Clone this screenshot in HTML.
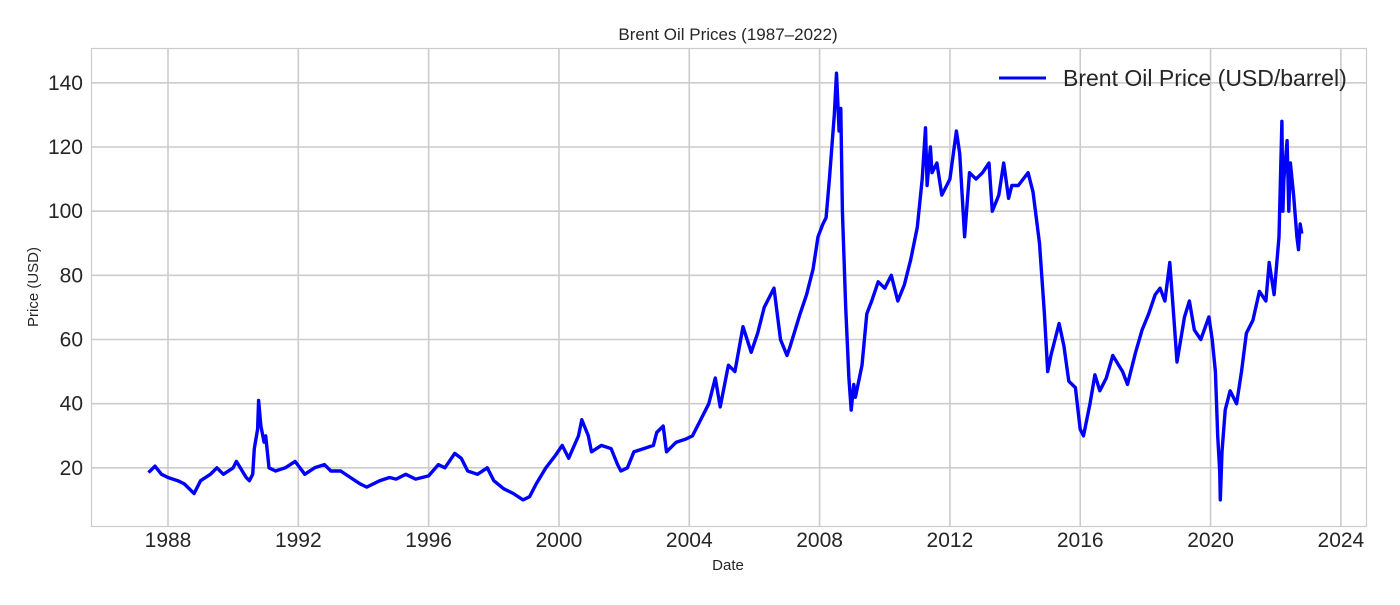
<!DOCTYPE html>
<html><head><meta charset="utf-8"><style>
body{margin:0;background:#fff;}
svg text{font-family:"Liberation Sans",sans-serif;fill:#262626;}
</style></head><body>
<svg id="chart" width="1400" height="600">
<rect x="0" y="0" width="1400" height="600" fill="#fff"/>
<g id="grid"></g>
<rect x="91.5" y="48.5" width="1275" height="478" fill="none" stroke="#cccccc" stroke-width="1.2"/>
<g id="xt"></g><g id="yt"></g>
<path id="line" fill="none" stroke="#0000ff" stroke-width="3.4" stroke-linejoin="round"/>
<text x="728" y="40" font-size="17" text-anchor="middle">Brent Oil Prices (1987–2022)</text>
<text x="728" y="570" font-size="15" text-anchor="middle">Date</text>
<text x="38" y="287" font-size="15" text-anchor="middle" transform="rotate(-90 38 287)">Price (USD)</text>
<g>
<line x1="999" y1="78" x2="1046" y2="78" stroke="#0000ff" stroke-width="3"/>
<text x="1063" y="86" font-size="23">Brent Oil Price (USD/barrel)</text>
</g>
</svg>
<script>
const dates=[1987.4,1987.6,1987.8,1988.0,1988.3,1988.5,1988.8,1989.0,1989.3,1989.5,1989.7,1990.0,1990.1,1990.4,1990.5,1990.6,1990.65,1990.75,1990.78,1990.85,1990.95,1991.0,1991.1,1991.3,1991.6,1991.9,1992.2,1992.5,1992.8,1993.0,1993.3,1993.6,1993.9,1994.1,1994.5,1994.8,1995.0,1995.3,1995.6,1996.0,1996.3,1996.5,1996.8,1997.0,1997.2,1997.5,1997.8,1998.0,1998.3,1998.6,1998.9,1999.1,1999.3,1999.6,1999.9,2000.1,2000.3,2000.6,2000.7,2000.9,2001.0,2001.3,2001.6,2001.8,2001.9,2002.1,2002.3,2002.6,2002.9,2003.0,2003.2,2003.3,2003.6,2003.9,2004.1,2004.3,2004.6,2004.8,2004.95,2005.2,2005.4,2005.65,2005.9,2006.1,2006.3,2006.6,2006.8,2007.0,2007.1,2007.4,2007.6,2007.8,2007.95,2008.1,2008.2,2008.3,2008.45,2008.52,2008.6,2008.65,2008.7,2008.8,2008.9,2008.97,2009.05,2009.1,2009.3,2009.45,2009.6,2009.8,2010.0,2010.2,2010.4,2010.6,2010.8,2011.0,2011.15,2011.25,2011.3,2011.4,2011.45,2011.6,2011.75,2011.9,2012.0,2012.2,2012.3,2012.45,2012.6,2012.8,2013.0,2013.2,2013.3,2013.5,2013.65,2013.8,2013.9,2014.1,2014.4,2014.55,2014.75,2014.9,2015.0,2015.1,2015.35,2015.5,2015.65,2015.85,2016.0,2016.1,2016.3,2016.45,2016.6,2016.8,2017.0,2017.3,2017.45,2017.7,2017.9,2018.1,2018.3,2018.45,2018.6,2018.75,2018.85,2018.97,2019.2,2019.35,2019.5,2019.7,2019.95,2020.05,2020.15,2020.22,2020.28,2020.3,2020.35,2020.45,2020.6,2020.8,2020.95,2021.1,2021.3,2021.5,2021.7,2021.8,2021.95,2022.1,2022.19,2022.22,2022.25,2022.35,2022.4,2022.45,2022.55,2022.65,2022.7,2022.75,2022.8];
const prices=[18.5,20.5,18,17,16,15,12,16,18,20,18,20,22,17,16,18,26,32,41,33,28,30,20,19,20,22,18,20,21,19,19,17,15,14,16,17,16.5,18,16.5,17.5,21,20,24.5,23,19,18,20,16,13.5,12,10,11,15,20,24,27,23,30,35,30,25,27,26,21,19,20,25,26,27,31,33,25,28,29,30,34,40,48,39,52,50,64,56,62,70,76,60,55,58,68,74,82,92,96,98,110,130,143,125,132,100,70,48,38,46,42,52,68,72,78,76,80,72,77,85,95,110,126,108,120,112,115,105,108,110,125,118,92,112,110,112,115,100,105,115,104,108,108,112,106,90,68,50,55,65,58,47,45,32,30,40,49,44,48,55,50,46,56,63,68,74,76,72,84,70,53,67,72,63,60,67,60,50,30,19,10,25,38,44,40,50,62,66,75,72,84,74,92,128,100,110,122,100,115,105,92,88,96,93];
const xTicks=[1988,1992,1996,2000,2004,2008,2012,2016,2020,2024];
const yTicks=[20,40,60,80,100,120,140];
const X=v=>168+(v-1988)*32.58, Y=v=>532-v*3.2083;
const ns="http://www.w3.org/2000/svg";
const g=document.getElementById('grid'),xt=document.getElementById('xt'),yt=document.getElementById('yt');
xTicks.forEach(t=>{
 const l=document.createElementNS(ns,'line');
 l.setAttribute('x1',X(t));l.setAttribute('x2',X(t));l.setAttribute('y1',48);l.setAttribute('y2',526);
 l.setAttribute('stroke','#cccccc');l.setAttribute('stroke-width','1.6');
 
 
 g.appendChild(l);
 const s=document.createElementNS(ns,'text');
 s.setAttribute('x',X(t));s.setAttribute('y',547);s.setAttribute('font-size','21');s.setAttribute('text-anchor','middle');
 s.textContent=t;
 
 
 xt.appendChild(s);
});
yTicks.forEach(t=>{
 const l=document.createElementNS(ns,'line');
 l.setAttribute('x1',91);l.setAttribute('x2',1366);l.setAttribute('y1',Y(t));l.setAttribute('y2',Y(t));
 l.setAttribute('stroke','#cccccc');l.setAttribute('stroke-width','1.6');
 
 
 g.appendChild(l);
 const s=document.createElementNS(ns,'text');
 s.setAttribute('x',83);s.setAttribute('y',Y(t)+7);s.setAttribute('font-size','21');s.setAttribute('text-anchor','end');
 s.textContent=t;
 
 
 yt.appendChild(s);
});
document.getElementById('line').setAttribute('d',dates.map((d,i)=>(i?'L':'M')+X(d).toFixed(1)+','+Y(prices[i]).toFixed(1)).join(''));
</script>
</body></html>
